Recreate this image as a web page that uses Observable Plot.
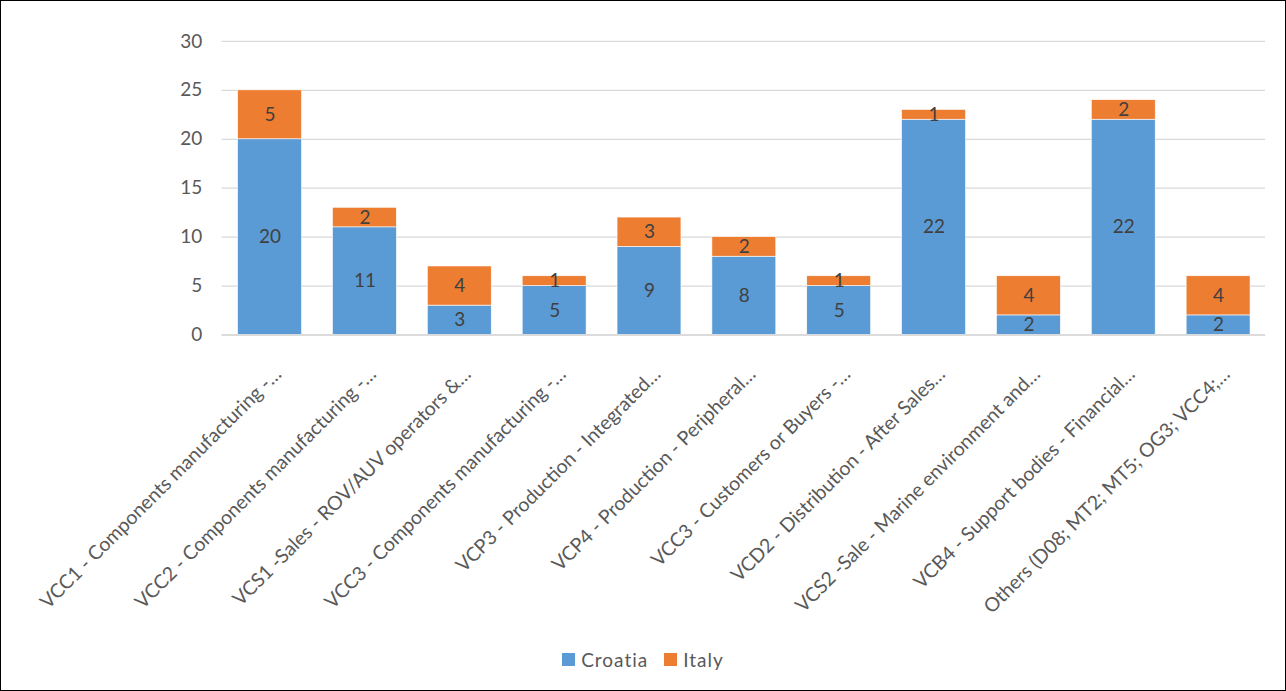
<!DOCTYPE html>
<html>
<head>
<meta charset="utf-8">
<script src="https://cdn.jsdelivr.net/npm/d3@7"></script>
<script src="https://cdn.jsdelivr.net/npm/@observablehq/plot@0.6"></script>
<style>
  html, body { margin: 0; padding: 0; background: #fff; }
  #frame { position: relative; width: 1284px; height: 689px; border: 1px solid #000; overflow: hidden; font-family: Lato, "Open Sans", sans-serif; }
  #chart { position: absolute; left: 0; top: 0; }
  #legend { position: absolute; left: 0; width: 1284px; top: 647px; text-align: center; font-size: 19px; color: #595959; letter-spacing: 1px; }
  #legend span.sw { display: inline-block; width: 13px; height: 13px; margin-right: 6px; vertical-align: 1px; }
  #legend span.item { margin: 0 8px; }
</style>
</head>
<body>
<div id="frame">
  <div id="chart"></div>
  <div id="legend"></div>
</div>
<script>
const categories = [
  "VCC1 - Components manufacturing -…",
  "VCC2 - Components manufacturing -…",
  "VCS1 -Sales - ROV/AUV operators &…",
  "VCC3 - Components manufacturing -…",
  "VCP3 - Production - Integrated…",
  "VCP4 - Production - Peripheral…",
  "VCC3 - Customers or Buyers -…",
  "VCD2 - Distribution - After Sales…",
  "VCS2 -Sale - Marine environment and…",
  "VCB4 - Support bodies - Financial…",
  "Others (D08; MT2; MT5; OG3; VCC4;…"
];
const croatia = [20, 11, 3, 5, 9, 8, 5, 22, 2, 22, 2];
const italy   = [5, 2, 4, 1, 3, 2, 1, 1, 4, 2, 4];
const seriesNames = ["Croatia", "Italy"];
const seriesColors = ["#5B9BD5", "#ED7D31"];
const yTicks = [0, 5, 10, 15, 20, 25, 30];

const rows = [];
categories.forEach((c, i) => {
  rows.push({cat: c, key: i, series: "Croatia", value: croatia[i]});
  rows.push({cat: c, key: i, series: "Italy", value: italy[i]});
});

const chart = Plot.plot({
  width: 1286,
  height: 640,
  marginLeft: 221,
  marginRight: 20,
  marginTop: 40,
  marginBottom: 306,
  style: {fontFamily: "Lato, 'Open Sans', sans-serif", fontSize: "17px", color: "#595959", background: "transparent"},
  x: {domain: d3.range(categories.length), paddingInner: 0.33, paddingOuter: 0.165, label: null, tickFormat: i => categories[i]},
  y: {domain: [0, 30], ticks: yTicks, label: null},
  color: {domain: seriesNames, range: seriesColors},
  marks: [
    Plot.gridY(yTicks, {stroke: "#D9D9D9", strokeOpacity: 1, strokeWidth: 1.3}),
    Plot.barY(rows, {x: "key", y: "value", fill: "series", stroke: "#fff", strokeWidth: 0.6}),
    Plot.text(rows, Plot.stackY({x: "key", y: "value", text: "value", z: "series", fill: "#404040", fontSize: 19})),
    Plot.axisY({ticks: yTicks, tickSize: 0, tickPadding: 20, fontSize: 19, fill: "#595959"}),
    Plot.axisX({tickSize: 0, tickRotate: -45, tickPadding: 14, fontSize: 19.5, fill: "#595959", tickFormat: i => categories[i], textAnchor: "end", dx: 8, dy: 22}),
    Plot.ruleY([0], {stroke: "#D9D9D9", strokeWidth: 1.3})
  ]
});
document.getElementById("chart").appendChild(chart);

const legend = document.getElementById("legend");
seriesNames.forEach((s, i) => {
  const item = document.createElement("span");
  item.className = "item";
  item.innerHTML = `<span class="sw" style="background:${seriesColors[i]}"></span>${s}`;
  legend.appendChild(item);
});
</script>
</body>
</html>
